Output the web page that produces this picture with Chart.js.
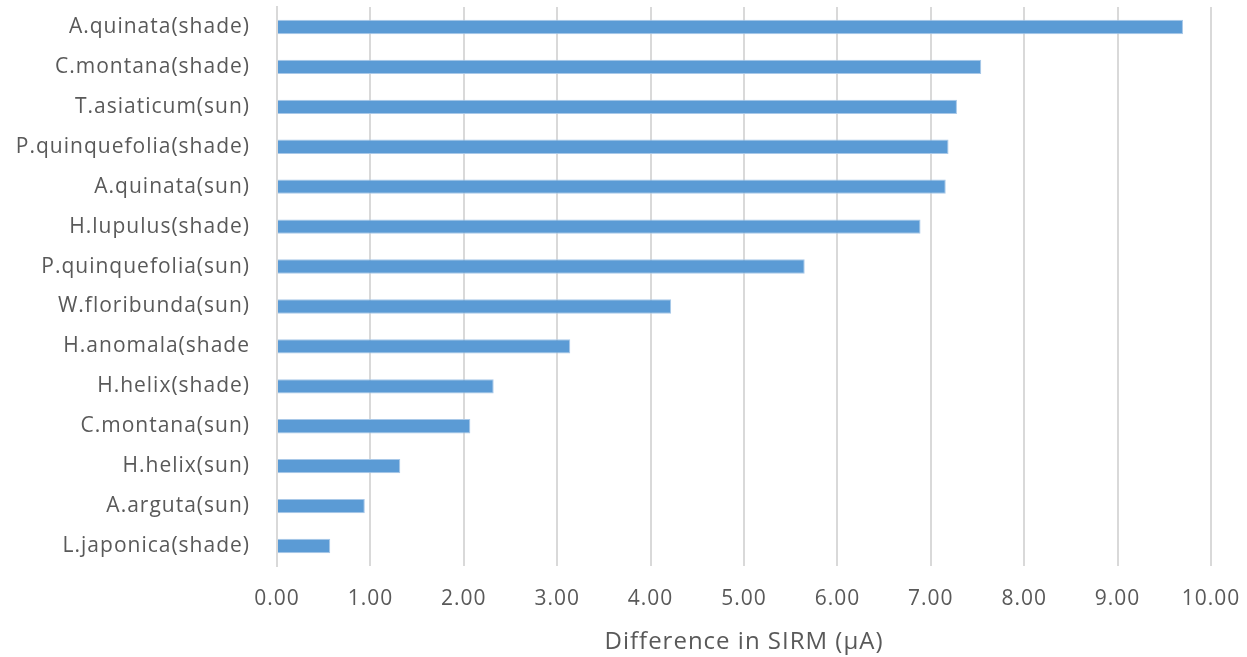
<!DOCTYPE html>
<html>
<head>
<meta charset="utf-8">
<script src="https://cdn.jsdelivr.net/npm/chart.js@4"></script>
<style>
  html, body { margin: 0; padding: 0; background: #fff; }
  #wrap { width: 1247px; height: 657px; position: relative; }
</style>
</head>
<body>
<div id="wrap"><canvas id="chart"></canvas></div>
<script>
const species = [
    'A.quinata(shade)', 'C.montana(shade)', 'T.asiaticum(sun)', 'P.quinquefolia(shade)',
    'A.quinata(sun)', 'H.lupulus(shade)', 'P.quinquefolia(sun)', 'W.floribunda(sun)',
    'H.anomala(shade', 'H.helix(shade)', 'C.montana(sun)', 'H.helix(sun)',
    'A.arguta(sun)', 'L.japonica(shade)'
];
const sirmDiff = [9.70, 7.54, 7.28, 7.19, 7.16, 6.89, 5.65, 4.22, 3.14, 2.32, 2.07, 1.32, 0.94, 0.57];
const xMin = 0, xMax = 10, xStep = 1;
const xTitle = 'Difference in SIRM (\u03BCA)';

const font = '"Open Sans", sans-serif';

// the reference text is set a little looser than Open Sans
const spacing = {
    id: 'spacing',
    beforeUpdate: chart => { chart.ctx.letterSpacing = '1px'; },
    beforeDraw: chart => { chart.ctx.letterSpacing = '1px'; }
};

const ctx = document.getElementById('chart').getContext('2d');
new Chart(ctx, {
    type: 'bar',
    data: {
        labels: species,
        datasets: [{
            data: sirmDiff,
            backgroundColor: '#5b9bd5',
            borderColor: '#a8c8e8',
            borderWidth: 1,
            borderSkipped: 'start',
            barPercentage: 0.72,
            categoryPercentage: 0.5
        }]
    },
    options: {
        indexAxis: 'y',
        responsive: true,
        maintainAspectRatio: false,
        animation: false,
        layout: { padding: { left: 0, right: 36, top: 7, bottom: 0 } },
        plugins: { legend: { display: false }, tooltip: { enabled: false } },
        scales: {
            x: {
                min: xMin,
                max: xMax,
                ticks: {
                    stepSize: xStep,
                    color: '#595959',
                    font: { family: font, size: 21 },
                    padding: 20,
                    callback: v => v.toFixed(2)
                },
                grid: { color: '#d9d9d9', lineWidth: 2, drawTicks: false },
                border: { display: false },
                title: {
                    display: true,
                    text: xTitle,
                    color: '#595959',
                    font: { family: font, size: 24 },
                    padding: { top: 5, bottom: 0 }
                },
                afterFit: s => { s.height = 91; s.paddingLeft = 0; s.paddingRight = 0; }
            },
            y: {
                ticks: {
                    color: '#595959',
                    font: { family: font, size: 21 },
                    padding: 27
                },
                grid: { display: false, drawTicks: false },
                border: { display: true, color: '#d9d9d9', width: 2 },
                afterFit: s => { s.width = 277; s.paddingTop = 0; s.paddingBottom = 0; }
            }
        }
    },
    plugins: [spacing]
});
</script>
</body>
</html>
